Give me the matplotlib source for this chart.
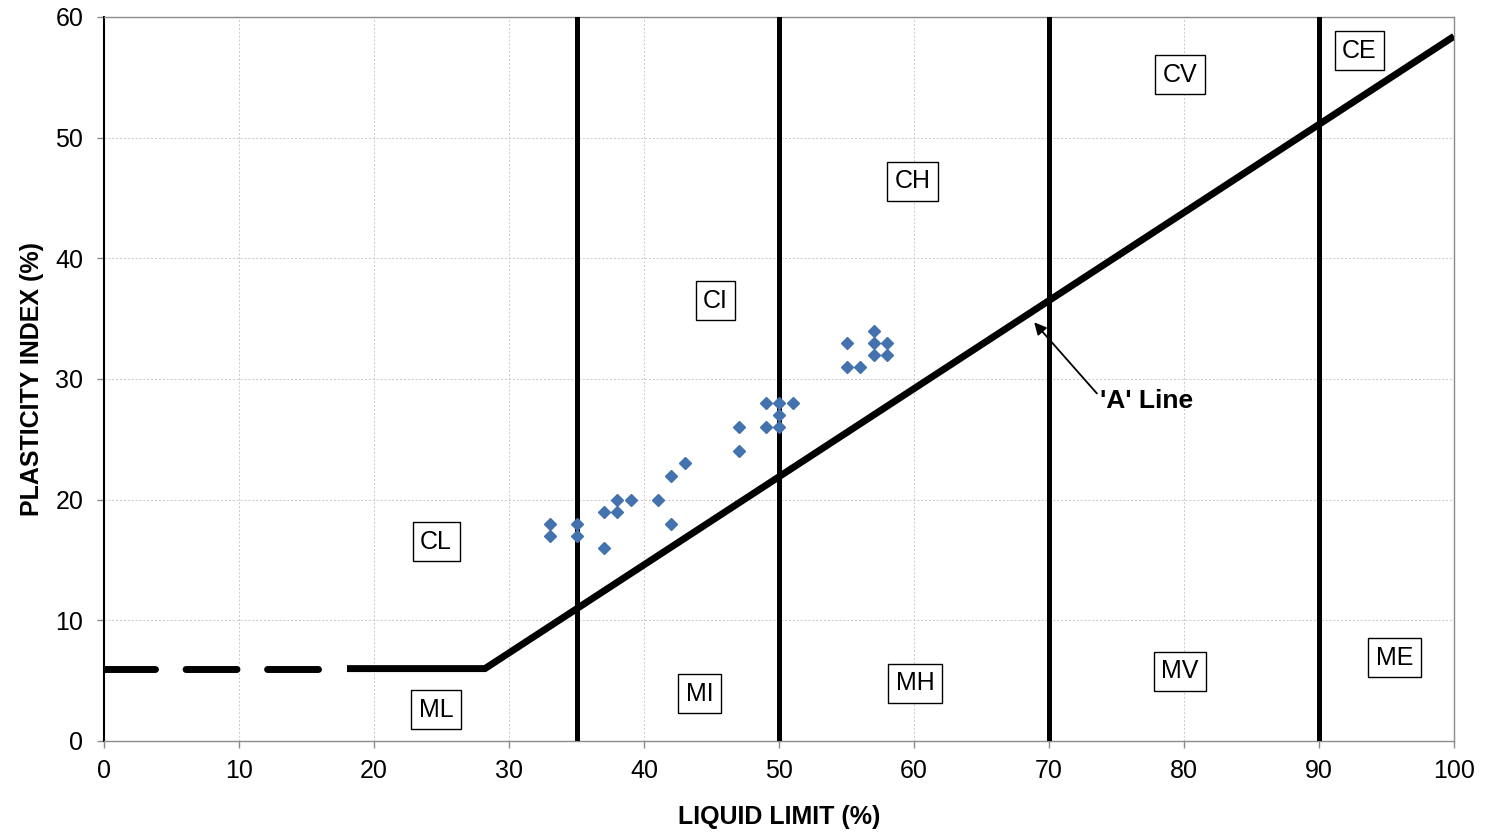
import matplotlib
matplotlib.use("Agg")
import matplotlib.pyplot as plt
import numpy as np

plt.rcParams['font.family'] = ['Liberation Sans', 'DejaVu Sans']

# Test results: liquid limit (%) and plasticity index (%)
liquid_limit = [33, 33, 35, 35, 37, 37, 38, 38, 39, 41, 42, 42, 43,
                47, 47, 49, 49, 50, 50, 50, 51, 55, 55, 56, 57, 57, 57, 58, 58]
plasticity_index = [18, 17, 18, 17, 19, 16, 20, 19, 20, 20, 22, 18, 23,
                    26, 24, 28, 26, 28, 27, 26, 28, 33, 31, 31, 34, 33, 32, 33, 32]

# Plasticity chart boundaries
zone_boundaries = [35, 50, 70, 90]
a_line_slope = 0.73
a_line_offset = 20
a_line_floor = 6          # PI below which the A-line is horizontal
dashed_end = 18           # dashed portion of the floor line

# Zone labels (text, LL, PI)
zone_labels = ['CL', 'ML', 'CI', 'MI', 'CH', 'MH', 'CV', 'MV', 'CE', 'ME']
zone_x = [24.6, 24.6, 45.3, 44.1, 59.9, 60.1, 79.7, 79.7, 93.0, 95.6]
zone_y = [16.5, 2.6, 36.5, 3.9, 46.4, 4.8, 55.2, 5.8, 57.2, 6.9]

x_ticks = list(range(0, 101, 10))
y_ticks = list(range(0, 61, 10))

fig = plt.figure(figsize=(14.85, 8.36), dpi=100)
ax = fig.add_axes([104 / 1485, 1 - 741 / 836, 1350 / 1485, 724 / 836])
ax.set_xlim(0, 100)
ax.set_ylim(0, 60)

# grid
ax.set_xticks(x_ticks)
ax.set_yticks(y_ticks)
ax.grid(True, color='#c8c8c8', linestyle=(0, (2, 2)), linewidth=0.7)
ax.set_axisbelow(True)

# spines and ticks
for side in ['top', 'right', 'bottom']:
    ax.spines[side].set_color('#8c8c8c')
    ax.spines[side].set_linewidth(1.0)
ax.spines['left'].set_color('black')
ax.spines['left'].set_linewidth(1.5)
ax.tick_params(direction='out', length=5, width=1, color='#8c8c8c',
               labelsize=18, labelcolor='black')
ax.tick_params(axis='x', pad=8)
ax.tick_params(axis='y', pad=10)

# vertical zone boundaries
for xb in zone_boundaries:
    ax.axvline(xb, color='black', linewidth=3.6, zorder=3)

# A-line
x_break = a_line_floor / a_line_slope + a_line_offset
ll_a = np.array([dashed_end, x_break, 100])
pi_a = np.array([a_line_floor, a_line_floor, a_line_slope * (100 - a_line_offset)])
ax.plot(ll_a, pi_a, color='black', linewidth=5, solid_capstyle='butt',
        solid_joinstyle='miter', zorder=4)
lw = 5
ax.plot([0, dashed_end], [a_line_floor, a_line_floor], color='black',
        linewidth=lw, dashes=(36.7 / lw, 22.0 / lw), dash_capstyle='round',
        zorder=4)

# data points
ax.plot(liquid_limit, plasticity_index, linestyle='none', marker='D',
        markersize=6.4, color='#4472AE', markeredgecolor='#4472AE', zorder=5)

# zone labels
for t, x, y in zip(zone_labels, zone_x, zone_y):
    ax.text(x, y, t, fontsize=18, ha='center', va='center', zorder=6,
            bbox=dict(boxstyle='square,pad=0.3', facecolor='white',
                      edgecolor='black', linewidth=1.0))

# A-line annotation
ax.annotate('', xy=(68.9, 34.7), xytext=(73.55, 28.8), zorder=6,
            arrowprops=dict(arrowstyle='-|>', color='black', lw=1.3,
                            mutation_scale=18, shrinkA=0, shrinkB=0))
ax.text(73.8, 28.2, "'A' Line", fontsize=19, fontweight='bold',
        ha='left', va='center', zorder=6)

ax.set_xlabel('LIQUID LIMIT (%)', fontsize=18, fontweight='bold', labelpad=16)
ax.set_ylabel('PLASTICITY INDEX (%)', fontsize=18, fontweight='bold', labelpad=8)

fig.savefig('out.png', dpi=100)
